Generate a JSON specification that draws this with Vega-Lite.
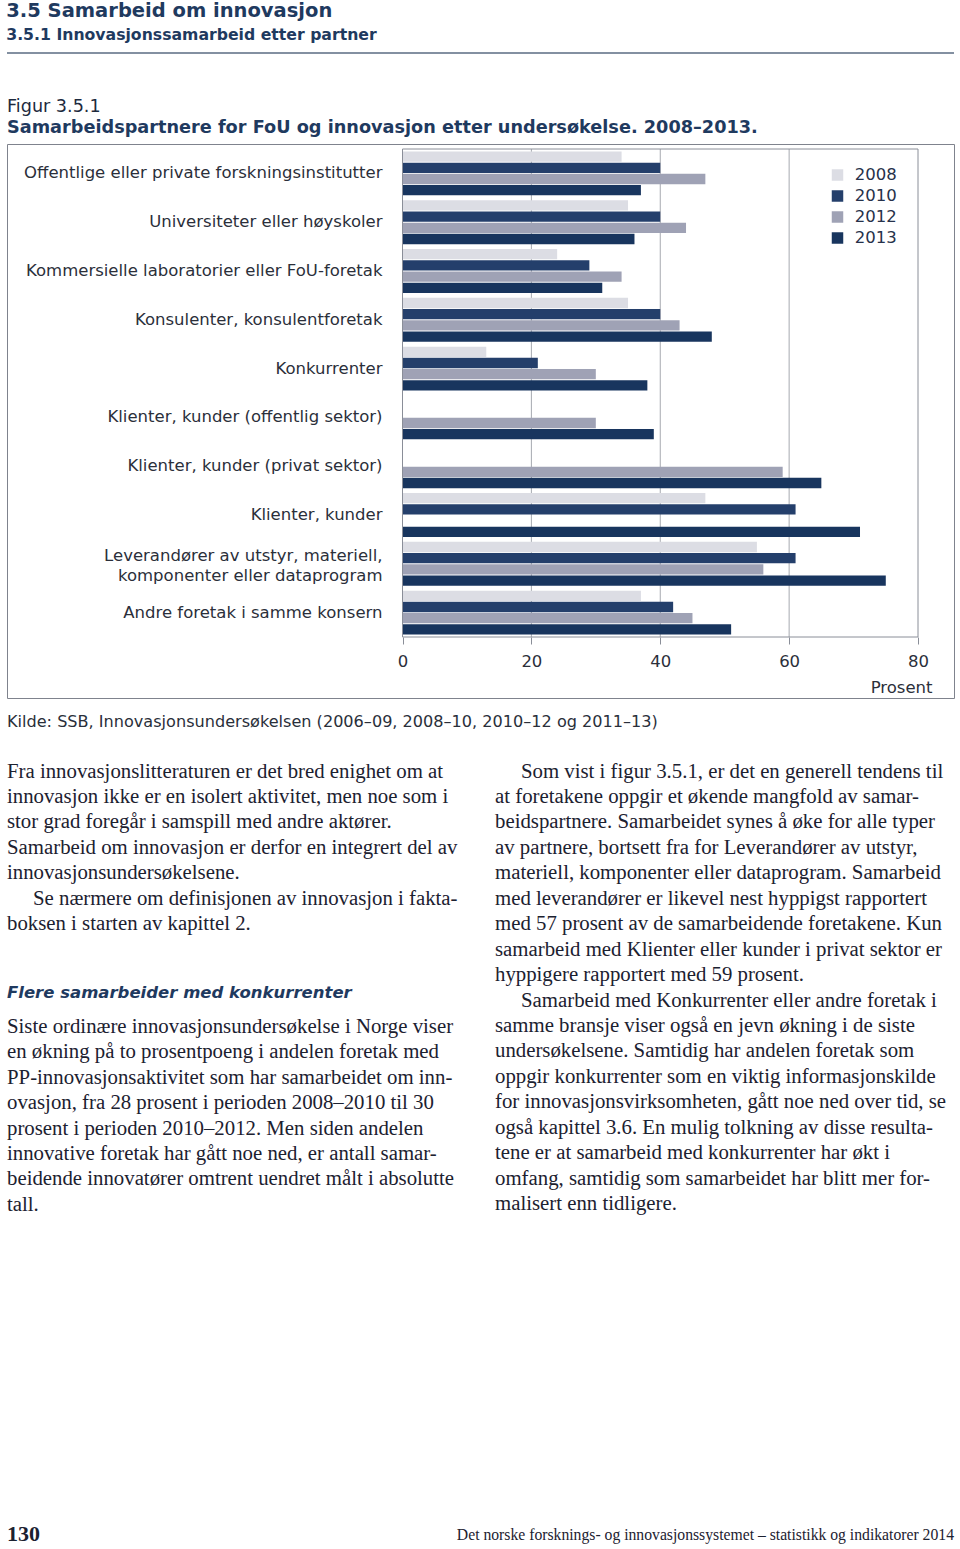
{
  "$schema": "https://vega.github.io/schema/vega-lite/v6.json",
  "background": "white",
  "padding": {"left": 6, "top": 0, "right": 0, "bottom": 0},
  "config": {"view": {"stroke": null}, "title": {"limit": 0}},
  "spacing": 308,
  "resolve": {"legend": {"color": "independent"}},
  "vconcat": [
    {
      "spacing": 14.5,
      "resolve": {"legend": {"color": "independent"}},
      "vconcat": [
        {
          "spacing": 43,
          "resolve": {"legend": {"color": "independent"}},
          "vconcat": [
            {
              "width": 947,
              "height": 9,
              "title": {
                "text": "3.5 Samarbeid om innovasjon",
                "subtitle": "3.5.1 Innovasjonssamarbeid etter partner",
                "anchor": "start",
                "offset": 0,
                "font": "DejaVu Sans",
                "fontSize": 19.5,
                "fontWeight": "bold",
                "color": "#1f3a5f",
                "subtitleFont": "DejaVu Sans",
                "subtitleFontSize": 15.7,
                "subtitleFontWeight": "bold",
                "subtitleColor": "#1f3a5f",
                "subtitlePadding": 7
              },
              "data": {"values": [{}]},
              "mark": {"type": "rule", "color": "#5a6b82", "strokeWidth": 1.5},
              "encoding": {"y": {"datum": 0, "type": "quantitative", "scale": {"domain": [0, 1]}, "axis": null}}
            },
            {
              "width": 947,
              "height": 554,
              "view": {"stroke": "#7f838d", "strokeWidth": 1},
              "title": {
                "text": "Figur 3.5.1",
                "subtitle": "Samarbeidspartnere for FoU og innovasjon etter undersøkelse. 2008–2013.",
                "anchor": "start",
                "offset": 7,
                "font": "DejaVu Sans",
                "fontSize": 17.6,
                "fontWeight": "normal",
                "color": "#1d2a3e",
                "subtitleFont": "DejaVu Sans",
                "subtitleFontSize": 17.7,
                "subtitleFontWeight": "bold",
                "subtitleColor": "#1f3a5f",
                "subtitlePadding": 4
              },
              "data": {
                "values": [
                  {"partner": "Offentlige eller private forskningsinstitutter", "year": "2008", "value": 34},
                  {"partner": "Offentlige eller private forskningsinstitutter", "year": "2010", "value": 40},
                  {"partner": "Offentlige eller private forskningsinstitutter", "year": "2012", "value": 47},
                  {"partner": "Offentlige eller private forskningsinstitutter", "year": "2013", "value": 37},
                  {"partner": "Universiteter eller høyskoler", "year": "2008", "value": 35},
                  {"partner": "Universiteter eller høyskoler", "year": "2010", "value": 40},
                  {"partner": "Universiteter eller høyskoler", "year": "2012", "value": 44},
                  {"partner": "Universiteter eller høyskoler", "year": "2013", "value": 36},
                  {"partner": "Kommersielle laboratorier eller FoU-foretak", "year": "2008", "value": 24},
                  {"partner": "Kommersielle laboratorier eller FoU-foretak", "year": "2010", "value": 29},
                  {"partner": "Kommersielle laboratorier eller FoU-foretak", "year": "2012", "value": 34},
                  {"partner": "Kommersielle laboratorier eller FoU-foretak", "year": "2013", "value": 31},
                  {"partner": "Konsulenter, konsulentforetak", "year": "2008", "value": 35},
                  {"partner": "Konsulenter, konsulentforetak", "year": "2010", "value": 40},
                  {"partner": "Konsulenter, konsulentforetak", "year": "2012", "value": 43},
                  {"partner": "Konsulenter, konsulentforetak", "year": "2013", "value": 48},
                  {"partner": "Konkurrenter", "year": "2008", "value": 13},
                  {"partner": "Konkurrenter", "year": "2010", "value": 21},
                  {"partner": "Konkurrenter", "year": "2012", "value": 30},
                  {"partner": "Konkurrenter", "year": "2013", "value": 38},
                  {"partner": "Klienter, kunder (offentlig sektor)", "year": "2012", "value": 30},
                  {"partner": "Klienter, kunder (offentlig sektor)", "year": "2013", "value": 39},
                  {"partner": "Klienter, kunder (privat sektor)", "year": "2012", "value": 59},
                  {"partner": "Klienter, kunder (privat sektor)", "year": "2013", "value": 65},
                  {"partner": "Klienter, kunder", "year": "2008", "value": 47},
                  {"partner": "Klienter, kunder", "year": "2010", "value": 61},
                  {"partner": "Klienter, kunder", "year": "2013", "value": 71},
                  {"partner": "Leverandører av utstyr, materiell, komponenter eller dataprogram", "year": "2008", "value": 55},
                  {"partner": "Leverandører av utstyr, materiell, komponenter eller dataprogram", "year": "2010", "value": 61},
                  {"partner": "Leverandører av utstyr, materiell, komponenter eller dataprogram", "year": "2012", "value": 56},
                  {"partner": "Leverandører av utstyr, materiell, komponenter eller dataprogram", "year": "2013", "value": 75},
                  {"partner": "Andre foretak i samme konsern", "year": "2008", "value": 37},
                  {"partner": "Andre foretak i samme konsern", "year": "2010", "value": 42},
                  {"partner": "Andre foretak i samme konsern", "year": "2012", "value": 45},
                  {"partner": "Andre foretak i samme konsern", "year": "2013", "value": 51}
                ]
              },
              "resolve": {"scale": {"y": "independent"}, "axis": {"y": "independent"}},
              "layer": [
                {
                  "data": {"values": [{}]},
                  "mark": {"type": "rule", "color": "#a6a9b0", "strokeWidth": 1},
                  "encoding": {
                    "x": {"datum": 20, "type": "quantitative", "title": "Prosent", "axis": {"orient": "bottom", "offset": -61, "values": [0, 20, 40, 60, 80], "grid": false, "domain": false, "ticks": true, "tickSize": 7, "tickColor": "#8a8e98", "tickWidth": 1, "labelFont": "DejaVu Sans", "labelFontSize": 16.5, "labelColor": "#2b2f3a", "labelPadding": 9, "labelFlush": false, "title": "Prosent", "titleFont": "DejaVu Sans", "titleFontSize": 16.5, "titleFontWeight": "normal", "titleColor": "#2b2f3a", "titleX": 925, "titleAlign": "right", "titlePadding": 10}},
                    "y": {"datum": 0, "type": "quantitative", "scale": {"domain": [0, 1], "range": [493, 5]}, "axis": null},
                    "y2": {"datum": 1}
                  }
                },
                {
                  "data": {"values": [{}]},
                  "mark": {"type": "rule", "color": "#a6a9b0", "strokeWidth": 1},
                  "encoding": {
                    "x": {"datum": 40, "type": "quantitative", "title": "Prosent", "axis": {"orient": "bottom", "offset": -61, "values": [0, 20, 40, 60, 80], "grid": false, "domain": false, "ticks": true, "tickSize": 7, "tickColor": "#8a8e98", "tickWidth": 1, "labelFont": "DejaVu Sans", "labelFontSize": 16.5, "labelColor": "#2b2f3a", "labelPadding": 9, "labelFlush": false, "title": "Prosent", "titleFont": "DejaVu Sans", "titleFontSize": 16.5, "titleFontWeight": "normal", "titleColor": "#2b2f3a", "titleX": 925, "titleAlign": "right", "titlePadding": 10}},
                    "y": {"datum": 0, "type": "quantitative", "scale": {"domain": [0, 1], "range": [493, 5]}, "axis": null},
                    "y2": {"datum": 1}
                  }
                },
                {
                  "data": {"values": [{}]},
                  "mark": {"type": "rule", "color": "#a6a9b0", "strokeWidth": 1},
                  "encoding": {
                    "x": {"datum": 60, "type": "quantitative", "title": "Prosent", "axis": {"orient": "bottom", "offset": -61, "values": [0, 20, 40, 60, 80], "grid": false, "domain": false, "ticks": true, "tickSize": 7, "tickColor": "#8a8e98", "tickWidth": 1, "labelFont": "DejaVu Sans", "labelFontSize": 16.5, "labelColor": "#2b2f3a", "labelPadding": 9, "labelFlush": false, "title": "Prosent", "titleFont": "DejaVu Sans", "titleFontSize": 16.5, "titleFontWeight": "normal", "titleColor": "#2b2f3a", "titleX": 925, "titleAlign": "right", "titlePadding": 10}},
                    "y": {"datum": 0, "type": "quantitative", "scale": {"domain": [0, 1], "range": [493, 5]}, "axis": null},
                    "y2": {"datum": 1}
                  }
                },
                {
                  "mark": {"type": "bar"},
                  "encoding": {
                    "y": {
                      "field": "partner",
                      "type": "nominal",
                      "scale": {
                        "domain": [
                          "Offentlige eller private forskningsinstitutter",
                          "Universiteter eller høyskoler",
                          "Kommersielle laboratorier eller FoU-foretak",
                          "Konsulenter, konsulentforetak",
                          "Konkurrenter",
                          "Klienter, kunder (offentlig sektor)",
                          "Klienter, kunder (privat sektor)",
                          "Klienter, kunder",
                          "Leverandører av utstyr, materiell, komponenter eller dataprogram",
                          "Andre foretak i samme konsern"
                        ],
                        "range": [5, 493],
                        "paddingInner": 0.1,
                        "paddingOuter": 0.05
                      },
                      "axis": {
                        "orient": "left",
                        "offset": -395.5,
                        "domain": false,
                        "ticks": false,
                        "tickSize": 0,
                        "grid": false,
                        "labelPadding": 20.5,
                        "labelLimit": 0,
                        "labelFont": "DejaVu Sans",
                        "labelFontSize": 16.5,
                        "labelColor": "#2b2f3a",
                        "labelLineHeight": 20,
                        "labelOffset": {"condition": {"test": "datum.value == 'Leverandører av utstyr, materiell, komponenter eller dataprogram'", "value": -8}, "value": 0},
                        "labelExpr": "datum.label == 'Leverandører av utstyr, materiell, komponenter eller dataprogram' ? ['Leverandører av utstyr, materiell,', 'komponenter eller dataprogram'] : datum.label",
                        "title": null
                      }
                    },
                    "yOffset": {"field": "year", "type": "nominal", "scale": {"paddingInner": 0.08, "paddingOuter": 0}},
                    "x": {
                      "field": "value",
                      "type": "quantitative",
                      "title": "Prosent",
                      "scale": {"domain": [0, 80], "range": [395.5, 911]},
                      "axis": {"orient": "bottom", "offset": -61, "values": [0, 20, 40, 60, 80], "grid": false, "domain": false, "ticks": true, "tickSize": 7, "tickColor": "#8a8e98", "tickWidth": 1, "labelFont": "DejaVu Sans", "labelFontSize": 16.5, "labelColor": "#2b2f3a", "labelPadding": 9, "labelFlush": false, "title": "Prosent", "titleFont": "DejaVu Sans", "titleFontSize": 16.5, "titleFontWeight": "normal", "titleColor": "#2b2f3a", "titleX": 925, "titleAlign": "right", "titlePadding": 10}
                    },
                    "color": {
                      "field": "year",
                      "type": "nominal",
                      "scale": {"domain": ["2008", "2010", "2012", "2013"], "range": ["#dcdde4", "#243f6b", "#9fa2b5", "#18355e"]},
                      "legend": {
                        "orient": "none",
                        "direction": "vertical",
                        "legendX": 822.25,
                        "legendY": 22.75,
                        "title": null,
                        "padding": 0,
                        "symbolType": "square",
                        "symbolSize": 132,
                        "symbolStrokeWidth": 0,
                        "symbolOpacity": 1,
                        "labelFont": "DejaVu Sans",
                        "labelFontSize": 16.5,
                        "labelColor": "#26314a",
                        "labelOffset": 9,
                        "rowPadding": 4
                      }
                    }
                  }
                },
                {
                  "data": {"values": [{}]},
                  "mark": {"type": "rect", "fillOpacity": 0, "stroke": "#8a8e98", "strokeWidth": 1},
                  "encoding": {
                    "x": {"datum": 0, "type": "quantitative", "title": "Prosent", "axis": {"orient": "bottom", "offset": -61, "values": [0, 20, 40, 60, 80], "grid": false, "domain": false, "ticks": true, "tickSize": 7, "tickColor": "#8a8e98", "tickWidth": 1, "labelFont": "DejaVu Sans", "labelFontSize": 16.5, "labelColor": "#2b2f3a", "labelPadding": 9, "labelFlush": false, "title": "Prosent", "titleFont": "DejaVu Sans", "titleFontSize": 16.5, "titleFontWeight": "normal", "titleColor": "#2b2f3a", "titleX": 925, "titleAlign": "right", "titlePadding": 10}},
                    "x2": {"datum": 80},
                    "y": {"datum": 0, "type": "quantitative", "scale": {"domain": [0, 1], "range": [493, 5]}, "axis": null},
                    "y2": {"datum": 1}
                  }
                }
              ]
            }
          ]
        },
        {
          "title": {
            "text": "Kilde: SSB, Innovasjonsundersøkelsen (2006–09, 2008–10, 2010–12 og 2011–13)",
            "anchor": "start",
            "offset": 30.6,
            "font": "DejaVu Sans",
            "fontSize": 16.1,
            "fontWeight": "normal",
            "color": "#2a2f3a"
          },
          "spacing": 28,
          "hconcat": [
            {
              "spacing": 49.8,
              "vconcat": [
                {
                  "width": 460,
                  "height": 1,
                  "data": {"values": []},
                  "mark": "point",
                  "title": {
                    "text": [
                      "Fra innovasjonslitteraturen er det bred enighet om at",
                      "innovasjon ikke er en isolert aktivitet, men noe som i",
                      "stor grad foregår i samspill med andre aktører.",
                      "Samarbeid om innovasjon er derfor en integrert del av",
                      "innovasjonsundersøkelsene.",
                      "\u200b\u00a0\u00a0\u00a0\u00a0\u00a0Se nærmere om definisjonen av innovasjon i fakta-",
                      "boksen i starten av kapittel 2."
                    ],
                    "orient": "bottom",
                    "anchor": "start",
                    "offset": 0,
                    "font": "Liberation Serif",
                    "fontSize": 20.8,
                    "fontWeight": "normal",
                    "color": "#1c2130",
                    "lineHeight": 25.45
                  }
                },
                {
                  "width": 460,
                  "height": 1,
                  "data": {"values": []},
                  "mark": "point",
                  "title": {
                    "text": "Flere samarbeider med konkurrenter",
                    "subtitle": [
                      "Siste ordinære innovasjonsundersøkelse i Norge viser",
                      "en økning på to prosentpoeng i andelen foretak med",
                      "PP-innovasjonsaktivitet som har samarbeidet om inn-",
                      "ovasjon, fra 28 prosent i perioden 2008–2010 til 30",
                      "prosent i perioden 2010–2012. Men siden andelen",
                      "innovative foretak har gått noe ned, er antall samar-",
                      "beidende innovatører omtrent uendret målt i absolutte",
                      "tall."
                    ],
                    "orient": "bottom",
                    "anchor": "start",
                    "offset": 0,
                    "font": "DejaVu Sans",
                    "fontSize": 16.5,
                    "fontWeight": "bold",
                    "fontStyle": "italic",
                    "color": "#1f3a5f",
                    "subtitleFont": "Liberation Serif",
                    "subtitleFontSize": 20.8,
                    "subtitleFontWeight": "normal",
                    "subtitleFontStyle": "normal",
                    "subtitleColor": "#1c2130",
                    "subtitleLineHeight": 25.45,
                    "subtitlePadding": 15
                  }
                }
              ]
            },
            {
              "width": 459,
              "height": 1,
              "data": {"values": []},
              "mark": "point",
              "title": {
                "text": [
                  "\u200b\u00a0\u00a0\u00a0\u00a0\u00a0Som vist i figur 3.5.1, er det en generell tendens til",
                  "at foretakene oppgir et økende mangfold av samar-",
                  "beidspartnere. Samarbeidet synes å øke for alle typer",
                  "av partnere, bortsett fra for Leverandører av utstyr,",
                  "materiell, komponenter eller dataprogram. Samarbeid",
                  "med leverandører er likevel nest hyppigst rapportert",
                  "med 57 prosent av de samarbeidende foretakene. Kun",
                  "samarbeid med Klienter eller kunder i privat sektor er",
                  "hyppigere rapportert med 59 prosent.",
                  "\u200b\u00a0\u00a0\u00a0\u00a0\u00a0Samarbeid med Konkurrenter eller andre foretak i",
                  "samme bransje viser også en jevn økning i de siste",
                  "undersøkelsene. Samtidig har andelen foretak som",
                  "oppgir konkurrenter som en viktig informasjonskilde",
                  "for innovasjonsvirksomheten, gått noe ned over tid, se",
                  "også kapittel 3.6. En mulig tolkning av disse resulta-",
                  "tene er at samarbeid med konkurrenter har økt i",
                  "omfang, samtidig som samarbeidet har blitt mer for-",
                  "malisert enn tidligere."
                ],
                "orient": "bottom",
                "anchor": "start",
                "offset": 0,
                "font": "Liberation Serif",
                "fontSize": 20.8,
                "fontWeight": "normal",
                "color": "#1c2130",
                "lineHeight": 25.45
              }
            }
          ]
        }
      ]
    },
    {
      "spacing": 0,
      "hconcat": [
        {
          "width": 100,
          "height": 1,
          "data": {"values": []},
          "mark": "point",
          "title": {
            "text": "130",
            "anchor": "start",
            "offset": 0,
            "font": "Liberation Serif",
            "fontSize": 22,
            "fontWeight": "bold",
            "color": "#1c2130"
          }
        },
        {
          "width": 847,
          "height": 1,
          "data": {"values": []},
          "mark": "point",
          "title": {
            "text": "Det norske forsknings- og innovasjonssystemet – statistikk og indikatorer 2014",
            "anchor": "end",
            "offset": 2,
            "font": "Liberation Serif",
            "fontSize": 15.7,
            "fontWeight": "normal",
            "color": "#1c2130"
          }
        }
      ]
    }
  ]
}
